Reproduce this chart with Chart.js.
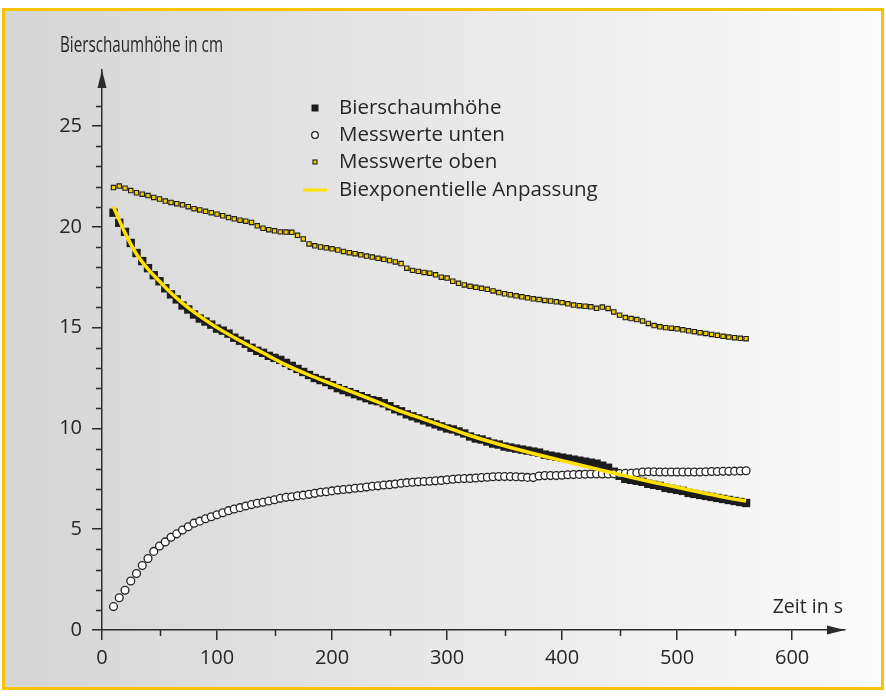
<!DOCTYPE html>
<html>
<head>
<meta charset="utf-8">
<script src="https://cdn.jsdelivr.net/npm/chart.js@4.4.1/dist/chart.umd.min.js"></script>
<style>
  html, body { margin: 0; padding: 0; background: #fff; }
  canvas { display: block; }
</style>
</head>
<body>
<canvas id="myChart" width="886" height="697"></canvas>
<script>
// Zeitpunkte der Messungen (s)
const times = [
    10, 15, 20, 25, 30, 35, 40, 45, 50, 55,
    60, 65, 70, 75, 80, 85, 90, 95, 100, 105,
    110, 115, 120, 125, 130, 135, 140, 145, 150, 155,
    160, 165, 170, 175, 180, 185, 190, 195, 200, 205,
    210, 215, 220, 225, 230, 235, 240, 245, 250, 255,
    260, 265, 270, 275, 280, 285, 290, 295, 300, 305,
    310, 315, 320, 325, 330, 335, 340, 345, 350, 355,
    360, 365, 370, 375, 380, 385, 390, 395, 400, 405,
    410, 415, 420, 425, 430, 435, 440, 445, 450, 455,
    460, 465, 470, 475, 480, 485, 490, 495, 500, 505,
    510, 515, 520, 525, 530, 535, 540, 545, 550, 555,
    560
]

const schaumhoehe = [
    20.7, 20.2, 19.75, 19.2, 18.7, 18.3, 17.95, 17.6, 17.3, 16.95,
    16.65, 16.4, 16.1, 15.9, 15.65, 15.45, 15.3, 15.15, 14.95, 14.85,
    14.7, 14.5, 14.35, 14.2, 14.0, 13.85, 13.75, 13.6, 13.5, 13.4,
    13.25, 13.1, 12.95, 12.8, 12.65, 12.5, 12.4, 12.3, 12.15, 12.0,
    11.9, 11.8, 11.7, 11.6, 11.5, 11.4, 11.35, 11.25, 11.1, 10.95,
    10.85, 10.7, 10.6, 10.5, 10.4, 10.3, 10.2, 10.1, 10.0, 9.95,
    9.85, 9.75, 9.6, 9.5, 9.45, 9.35, 9.25, 9.2, 9.1, 9.05,
    9.0, 8.95, 8.9, 8.85, 8.8, 8.7, 8.65, 8.6, 8.55, 8.5,
    8.45, 8.4, 8.35, 8.3, 8.25, 8.15, 8.05, 7.85, 7.65, 7.5,
    7.45, 7.4, 7.35, 7.25, 7.2, 7.15, 7.05, 7.0, 6.95, 6.9,
    6.8, 6.75, 6.7, 6.65, 6.6, 6.55, 6.5, 6.45, 6.4, 6.35,
    6.3
]

const messUnten = [
    1.16, 1.6, 1.97, 2.43, 2.8, 3.2, 3.55, 3.9, 4.17, 4.37,
    4.6, 4.77, 4.96, 5.12, 5.3, 5.4, 5.52, 5.62, 5.72, 5.82,
    5.92, 6.0, 6.07, 6.15, 6.22, 6.29, 6.34, 6.4, 6.46, 6.53,
    6.58, 6.61, 6.66, 6.69, 6.73, 6.78, 6.83, 6.86, 6.9, 6.94,
    6.97, 6.99, 7.03, 7.06, 7.09, 7.13, 7.15, 7.19, 7.21, 7.24,
    7.28, 7.31, 7.33, 7.35, 7.37, 7.38, 7.4, 7.42, 7.45, 7.48,
    7.5, 7.51, 7.52, 7.54, 7.56, 7.58, 7.6, 7.61, 7.61, 7.61,
    7.6, 7.59, 7.57, 7.56, 7.64, 7.66, 7.66, 7.66, 7.68, 7.7,
    7.71, 7.72, 7.73, 7.74, 7.74, 7.74, 7.74, 7.75, 7.76, 7.77,
    7.77, 7.8, 7.84, 7.85, 7.85, 7.84, 7.84, 7.84, 7.84, 7.84,
    7.84, 7.84, 7.84, 7.85, 7.86, 7.86, 7.87, 7.87, 7.88, 7.89,
    7.9
]

const messOben = [
    21.95, 22.02, 21.92, 21.8, 21.69, 21.62, 21.55, 21.46, 21.38, 21.28,
    21.21, 21.15, 21.09, 21.0, 20.9, 20.84, 20.77, 20.7, 20.63, 20.55,
    20.46, 20.4, 20.33, 20.28, 20.22, 20.05, 19.93, 19.86, 19.8, 19.75,
    19.74, 19.73, 19.58, 19.4, 19.15, 19.06, 19.0, 18.96, 18.91, 18.85,
    18.78, 18.72, 18.67, 18.61, 18.55, 18.5, 18.44, 18.39, 18.33, 18.26,
    18.18, 17.95, 17.84, 17.79, 17.74, 17.7, 17.62, 17.5, 17.46, 17.3,
    17.2, 17.12, 17.05, 17.0, 16.95, 16.9, 16.82, 16.74, 16.68, 16.63,
    16.58, 16.53, 16.48, 16.43, 16.39, 16.35, 16.32, 16.28, 16.24, 16.18,
    16.12, 16.09, 16.06, 16.03, 15.96, 16.02, 15.95, 15.78, 15.62, 15.5,
    15.45, 15.4, 15.33, 15.21, 15.1, 15.04, 15.0, 14.97, 14.94, 14.89,
    14.84, 14.8, 14.75, 14.71, 14.66, 14.62, 14.57, 14.53, 14.5, 14.47,
    14.45
]

// biexponentielle Anpassung
const fitTimes = [10, 20, 30, 40, 50, 60, 70, 80, 90, 100, 120, 140, 160, 180, 200, 220, 240,
    260, 280, 300, 320, 340, 360, 380, 400, 420, 440, 460, 480, 500, 520, 540, 560]
const fitWerte = [21.0, 19.7, 18.65, 17.9, 17.3, 16.72, 16.22, 15.77, 15.37, 15.0, 14.35, 13.75, 13.15, 12.65, 12.2, 11.75, 11.3,
    10.85, 10.45, 10.05, 9.65, 9.3, 8.98, 8.68, 8.4, 8.12, 7.85, 7.58, 7.32, 7.08, 6.83, 6.6, 6.4]

const xTicks = [0, 100, 200, 300, 400, 500, 600]
const yTicks = [0, 5, 10, 15, 20, 25]
const xMinorTicks = [50, 150, 250, 350, 450, 550]
const yMinorTicks = [1, 2, 3, 4, 6, 7, 8, 9, 11, 12, 13, 14, 16, 17, 18, 19, 21, 22, 23, 24, 26]

const axisColor = '#2b2b2b'
const textColor = '#262626'

Chart.defaults.font.family = "'Open Sans', sans-serif"
Chart.defaults.color = textColor

const toPoints = (xs, ys) => xs.map((x, i) => ({ x: x, y: ys[i] }))

const frame = {
    id: 'frame',
    beforeDraw(chart) {
        const ctx = chart.ctx
        ctx.save()
        ctx.fillStyle = '#ffffff'
        ctx.fillRect(0, 0, chart.width, chart.height)
        const g = ctx.createLinearGradient(3, 0, 883, 0)
        g.addColorStop(0, '#d5d5d5')
        g.addColorStop(1, '#fbfbfb')
        ctx.fillStyle = g
        ctx.fillRect(3, 9, 880, 680)
        ctx.strokeStyle = '#f6c500'
        ctx.lineWidth = 3
        ctx.strokeRect(3.5, 9.5, 879, 679)
        ctx.restore()
    }
}

const extras = {
    id: 'extras',
    afterDraw(chart) {
        const { ctx, chartArea, scales: { x, y } } = chart
        const left = chartArea.left, bottom = chartArea.bottom
        ctx.save()
        ctx.strokeStyle = axisColor
        ctx.fillStyle = axisColor
        ctx.lineWidth = 1.5

        // kleine Striche
        ctx.beginPath()
        yMinorTicks.forEach(v => {
            const py = Math.round(y.getPixelForValue(v)) + 0.5
            ctx.moveTo(left - 6, py)
            ctx.lineTo(left, py)
        })
        xMinorTicks.forEach(v => {
            const px = Math.round(x.getPixelForValue(v)) + 0.5
            ctx.moveTo(px, bottom)
            ctx.lineTo(px, bottom + 6)
        })
        ctx.stroke()

        // Pfeilspitzen
        ctx.beginPath()
        ctx.moveTo(chartArea.right, bottom)
        ctx.lineTo(chartArea.right - 18, bottom - 4.5)
        ctx.lineTo(chartArea.right - 18, bottom + 4.5)
        ctx.closePath()
        ctx.moveTo(left, chartArea.top)
        ctx.lineTo(left - 4.5, chartArea.top + 18)
        ctx.lineTo(left + 4.5, chartArea.top + 18)
        ctx.closePath()
        ctx.fill()

        // Achsentitel (schmal gesetzt wie im Original)
        ctx.fillStyle = textColor
        ctx.textBaseline = 'middle'
        ctx.textAlign = 'left'
        ctx.font = "21.5px 'Open Sans', sans-serif"
        const title = 'Bierschaumhöhe in cm'
        const sx = 163 / ctx.measureText(title).width
        ctx.save()
        ctx.translate(60, 46)
        ctx.scale(sx, 1)
        ctx.fillText(title, 0, 0)
        ctx.restore()
        ctx.font = "19.5px 'Open Sans', sans-serif"
        ctx.textAlign = 'right'
        ctx.fillText('Zeit in s', 843, 607)

        // Legende
        const lx = 315, tx = 339
        const rows = [108, 135, 162, 190]
        chart.data.datasets.forEach((ds, i) => {
            const ry = rows[i]
            ctx.lineWidth = 1
            if (ds.showLine) {
                ctx.strokeStyle = ds.borderColor
                ctx.lineWidth = 3
                ctx.beginPath()
                ctx.moveTo(lx - 12, ry)
                ctx.lineTo(lx + 12, ry)
                ctx.stroke()
            } else if (ds.pointStyle === 'circle') {
                ctx.fillStyle = ds.pointBackgroundColor
                ctx.strokeStyle = ds.pointBorderColor
                ctx.lineWidth = ds.pointBorderWidth
                ctx.beginPath()
                ctx.arc(lx, ry, 3.3, 0, Math.PI * 2)
                ctx.fill()
                ctx.stroke()
            } else {
                const s = ds.pointBorderWidth ? 2 : 3.5
                ctx.fillStyle = ds.pointBackgroundColor
                ctx.strokeStyle = ds.pointBorderColor
                ctx.lineWidth = ds.pointBorderWidth
                ctx.fillRect(lx - s, ry - s, 2 * s, 2 * s)
                if (ds.pointBorderWidth) ctx.strokeRect(lx - s, ry - s, 2 * s, 2 * s)
            }
            ctx.fillStyle = textColor
            ctx.font = "20.5px 'Open Sans', sans-serif"
            ctx.textAlign = 'left'
            ctx.fillText(ds.label, tx, ry)
        })
        ctx.restore()
    }
}

const ctx = document.getElementById('myChart')

const chart = new Chart(ctx, {
    type: 'scatter',
    data: {
        datasets: [{
            label: 'Bierschaumhöhe',
            data: toPoints(times, schaumhoehe),
            showLine: false,
            pointStyle: 'rect',
            pointRadius: 5.9,
            pointBackgroundColor: '#1c1c1c',
            pointBorderColor: '#1c1c1c',
            pointBorderWidth: 0,
            order: 3
        },
        {
            label: 'Messwerte unten',
            data: toPoints(times, messUnten),
            showLine: false,
            pointStyle: 'circle',
            pointRadius: 3.9,
            pointBackgroundColor: '#ffffff',
            pointBorderColor: '#222222',
            pointBorderWidth: 1.3,
            order: 1
        },
        {
            label: 'Messwerte oben',
            data: toPoints(times, messOben),
            showLine: false,
            pointStyle: 'rect',
            pointRadius: 3.1,
            pointBackgroundColor: '#f2d000',
            pointBorderColor: '#1c1c1c',
            pointBorderWidth: 1.1,
            order: 2
        },
        {
            label: 'Biexponentielle Anpassung',
            data: toPoints(fitTimes, fitWerte),
            showLine: true,
            borderColor: '#ffe000',
            borderWidth: 3.5,
            pointRadius: 0,
            cubicInterpolationMode: 'monotone',
            order: 0
        }]
    },
    options: {
        responsive: false,
        devicePixelRatio: 1,
        animation: false,
        layout: {
            padding: { left: 42, top: 70, right: 41, bottom: 27 }
        },
        plugins: {
            legend: { display: false },
            tooltip: { enabled: false }
        },
        scales: {
            x: {
                type: 'linear',
                min: 0,
                max: 646,
                afterBuildTicks: s => { s.ticks = xTicks.map(v => ({ value: v })) },
                afterFit: s => { s.height = 40 },
                grid: { drawOnChartArea: false, drawTicks: true, tickLength: 10, color: axisColor, lineWidth: 1.5 },
                border: { display: true, color: axisColor, width: 1.5 },
                ticks: { color: textColor, font: { size: 20 }, padding: 6, maxRotation: 0, autoSkip: false }
            },
            y: {
                type: 'linear',
                min: 0,
                max: 27.78,
                afterBuildTicks: s => { s.ticks = yTicks.map(v => ({ value: v })) },
                afterFit: s => { s.width = 60 },
                grid: { drawOnChartArea: false, drawTicks: true, tickLength: 10, color: axisColor, lineWidth: 1.5 },
                border: { display: true, color: axisColor, width: 1.5 },
                ticks: { color: textColor, font: { size: 20 }, padding: 10, autoSkip: false }
            }
        }
    },
    plugins: [frame, extras]
})
</script>
</body>
</html>
